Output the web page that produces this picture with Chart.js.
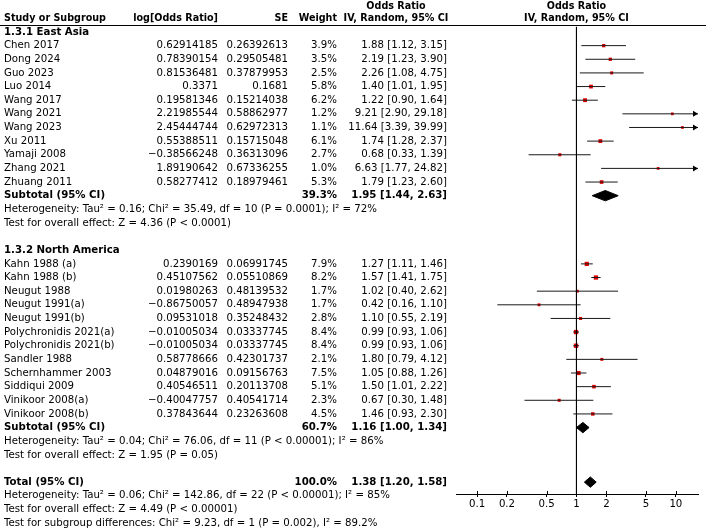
<!DOCTYPE html>
<html>
<head>
<meta charset="utf-8">
<script src="https://cdn.jsdelivr.net/npm/chart.js@4"></script>
<style>
  html, body { margin: 0; padding: 0; background: #fff; }
  #wrap { width: 708px; height: 531px; position: relative; }
</style>
</head>
<body>
<div id="wrap"><canvas id="forest"></canvas></div>
<script>
// East Asia subgroup
const eaStudies = ['Chen 2017', 'Dong 2024', 'Guo 2023', 'Luo 2014', 'Wang 2017', 'Wang 2021',
  'Wang 2023', 'Xu 2011', 'Yamaji 2008', 'Zhang 2021', 'Zhuang 2011'];
const eaLogOR = [0.62914185, 0.78390154, 0.81536481, 0.3371, 0.19581346, 2.21985544,
  2.45444744, 0.55388511, -0.38566248, 1.89190642, 0.58277412];
const eaSE = [0.26392613, 0.29505481, 0.37879953, 0.1681, 0.15214038, 0.58862977,
  0.62972313, 0.15715048, 0.36313096, 0.67336255, 0.18979461];
const eaWeight = [3.9, 3.5, 2.5, 5.8, 6.2, 1.2, 1.1, 6.1, 2.7, 1.0, 5.3];
const eaOR = [1.88, 2.19, 2.26, 1.40, 1.22, 9.21, 11.64, 1.74, 0.68, 6.63, 1.79];
const eaLo = [1.12, 1.23, 1.08, 1.01, 0.90, 2.90, 3.39, 1.28, 0.33, 1.77, 1.23];
const eaHi = [3.15, 3.90, 4.75, 1.95, 1.64, 29.18, 39.99, 2.37, 1.39, 24.82, 2.60];
const eaSubtotal = { weight: 39.3, or: 1.95, lo: 1.44, hi: 2.63 };

// North America subgroup
const naStudies = ['Kahn 1988 (a)', 'Kahn 1988 (b)', 'Neugut 1988', 'Neugut 1991(a)', 'Neugut 1991(b)',
  'Polychronidis 2021(a)', 'Polychronidis 2021(b)', 'Sandler 1988', 'Schernhammer 2003',
  'Siddiqui 2009', 'Vinikoor 2008(a)', 'Vinikoor 2008(b)'];
const naLogOR = [0.2390169, 0.45107562, 0.01980263, -0.86750057, 0.09531018, -0.01005034,
  -0.01005034, 0.58778666, 0.04879016, 0.40546511, -0.40047757, 0.37843644];
const naSE = [0.06991745, 0.05510869, 0.48139532, 0.48947938, 0.35248432, 0.03337745,
  0.03337745, 0.42301737, 0.09156763, 0.20113708, 0.40541714, 0.23263608];
const naWeight = [7.9, 8.2, 1.7, 1.7, 2.8, 8.4, 8.4, 2.1, 7.5, 5.1, 2.3, 4.5];
const naOR = [1.27, 1.57, 1.02, 0.42, 1.10, 0.99, 0.99, 1.80, 1.05, 1.50, 0.67, 1.46];
const naLo = [1.11, 1.41, 0.40, 0.16, 0.55, 0.93, 0.93, 0.79, 0.88, 1.01, 0.30, 0.93];
const naHi = [1.46, 1.75, 2.62, 1.10, 2.19, 1.06, 1.06, 4.12, 1.26, 2.22, 1.48, 2.30];
const naSubtotal = { weight: 60.7, or: 1.16, lo: 1.00, hi: 1.34 };

const total = { weight: 100.0, or: 1.38, lo: 1.20, hi: 1.58 };

const xTicks = [0.1, 0.2, 0.5, 1, 2, 5, 10];
const xTickLabels = ['0.1', '0.2', '0.5', '1', '2', '5', '10'];

const eaNotes = ['Heterogeneity: Tau² = 0.16; Chi² = 35.49, df = 10 (P = 0.0001); I² = 72%',
  'Test for overall effect: Z = 4.36 (P < 0.0001)'];
const naNotes = ['Heterogeneity: Tau² = 0.04; Chi² = 76.06, df = 11 (P < 0.00001); I² = 86%',
  'Test for overall effect: Z = 1.95 (P = 0.05)'];
const totalNotes = ['Heterogeneity: Tau² = 0.06; Chi² = 142.86, df = 22 (P < 0.00001); I² = 85%',
  'Test for overall effect: Z = 4.49 (P < 0.00001)',
  'Test for subgroup differences: Chi² = 9.23, df = 1 (P = 0.002), I² = 89.2%'];

// row layout (one row per text line)
const EA_HEAD = 0, EA_FIRST = 1, EA_SUB = 12;
const NA_HEAD = 16, NA_FIRST = 17, NA_SUB = 29;
const TOTAL_ROW = 33;
const X_MIN = 0.0614, X_MAX = 16.7;
const Y_MIN = -0.513, Y_MAX = 33.87;

const FONT = '"DejaVu Sans", sans-serif';
const FS = 10.2;
const HEAD_FS = 9.6;

const studies = [];
eaStudies.forEach((s, i) => studies.push({ name: s, row: EA_FIRST + i, logOR: eaLogOR[i], se: eaSE[i],
  w: eaWeight[i], or: eaOR[i], lo: eaLo[i], hi: eaHi[i] }));
naStudies.forEach((s, i) => studies.push({ name: s, row: NA_FIRST + i, logOR: naLogOR[i], se: naSE[i],
  w: naWeight[i], or: naOR[i], lo: naLo[i], hi: naHi[i] }));

const summaries = [
  { row: EA_SUB, ...eaSubtotal },
  { row: NA_SUB, ...naSubtotal },
  { row: TOTAL_ROW, ...total }
];

const datasets = [];

// line of no effect
datasets.push({
  data: [{ x: 1, y: -0.37 }, { x: 1, y: Y_MAX }],
  showLine: true, borderColor: '#000', borderWidth: 1, pointRadius: 0
});

// confidence intervals
studies.forEach(s => {
  datasets.push({
    data: [{ x: s.lo, y: s.row }, { x: s.hi, y: s.row }],
    showLine: true, borderColor: '#1a1a1a', borderWidth: 1, pointRadius: 0
  });
});

// study estimates, square size follows the weight
datasets.push({
  data: studies.map(s => ({ x: s.or, y: s.row })),
  pointStyle: 'rect',
  pointRadius: studies.map(s => (2.5 + s.w * 0.22) / Math.SQRT2),
  pointBackgroundColor: '#e00000',
  pointBorderWidth: 0,
  showLine: false
});

// pooled diamonds
summaries.forEach(d => {
  datasets.push({
    data: [{ x: d.lo, y: d.row }, { x: d.or, y: d.row - 0.38 }, { x: d.hi, y: d.row },
      { x: d.or, y: d.row + 0.38 }, { x: d.lo, y: d.row }],
    showLine: true, fill: 'shape', backgroundColor: '#000', borderColor: '#000',
    borderWidth: 1, pointRadius: 0, tension: 0
  });
});

const fmt = v => String(v).replace('-', '\u2212');
const ci = (o, l, h) => `${o.toFixed(2)} [${l.toFixed(2)}, ${h.toFixed(2)}]`;

const tablePlugin = {
  id: 'forestTable',
  afterDraw(chart) {
    const ctx = chart.ctx;
    const y = chart.scales.y, x = chart.scales.x;
    const area = chart.chartArea;
    const py = r => y.getPixelForValue(r);
    const txt = (t, px, r, align, bold, size) => {
      ctx.font = (bold ? 'bold ' : '') + (size || FS) + 'px ' + FONT;
      ctx.textAlign = align;
      ctx.fillText(t, px, typeof r === 'number' ? py(r) : r.px);
    };
    ctx.save();
    ctx.fillStyle = '#000';
    ctx.textBaseline = 'middle';

    // header
    const mid = x.getPixelForValue(1);
    txt('Odds Ratio', 396, { px: 6 }, 'center', true, HEAD_FS);
    txt('Odds Ratio', mid, { px: 6 }, 'center', true, HEAD_FS);
    txt('Study or Subgroup', 4, { px: 18 }, 'left', true, HEAD_FS);
    txt('log[Odds Ratio]', 218, { px: 18 }, 'right', true, HEAD_FS);
    txt('SE', 288, { px: 18 }, 'right', true, HEAD_FS);
    txt('Weight', 337, { px: 18 }, 'right', true, HEAD_FS);
    txt('IV, Random, 95% CI', 396, { px: 18 }, 'center', true, HEAD_FS);
    txt('IV, Random, 95% CI', mid, { px: 18 }, 'center', true, HEAD_FS);
    ctx.strokeStyle = '#000';
    ctx.lineWidth = 1;
    ctx.beginPath();
    ctx.moveTo(0, 25.5);
    ctx.lineTo(706, 25.5);
    ctx.stroke();

    txt('1.3.1 East Asia', 4, EA_HEAD, 'left', true);
    txt('1.3.2 North America', 4, NA_HEAD, 'left', true);

    studies.forEach(s => {
      txt(s.name, 4, s.row, 'left');
      txt(fmt(s.logOR), 218, s.row, 'right');
      txt(fmt(s.se), 288, s.row, 'right');
      txt(s.w.toFixed(1) + '%', 337, s.row, 'right');
      txt(ci(s.or, s.lo, s.hi), 447, s.row, 'right');
    });

    summaries.forEach((d, i) => {
      txt(i === 2 ? 'Total (95% CI)' : 'Subtotal (95% CI)', 4, d.row, 'left', true);
      txt(d.weight.toFixed(1) + '%', 337, d.row, 'right', true);
      txt(ci(d.or, d.lo, d.hi), 447, d.row, 'right', true);
    });

    eaNotes.forEach((t, i) => txt(t, 4, EA_SUB + 1 + i, 'left'));
    naNotes.forEach((t, i) => txt(t, 4, NA_SUB + 1 + i, 'left'));
    totalNotes.forEach((t, i) => txt(t, 4, TOTAL_ROW + 1 + i, 'left'));

    // arrow heads for intervals running past the axis
    studies.filter(s => s.hi > X_MAX).forEach(s => {
      const yy = py(s.row);
      ctx.fillStyle = '#000';
      ctx.beginPath();
      ctx.moveTo(area.right, yy);
      ctx.lineTo(area.right - 5, yy - 3);
      ctx.lineTo(area.right - 5, yy + 3);
      ctx.closePath();
      ctx.fill();
    });

    // upward tick marks on the axis
    ctx.strokeStyle = '#000';
    ctx.beginPath();
    xTicks.forEach(v => {
      const px = Math.round(x.getPixelForValue(v)) + 0.5;
      ctx.moveTo(px, area.bottom - 3);
      ctx.lineTo(px, area.bottom);
    });
    ctx.stroke();
    ctx.restore();
  }
};

new Chart(document.getElementById('forest'), {
  type: 'scatter',
  data: { datasets },
  options: {
    responsive: true,
    maintainAspectRatio: false,
    animation: false,
    events: [],
    layout: { padding: { left: 456, right: 10, top: 25, bottom: 0 } },
    plugins: { legend: { display: false }, tooltip: { enabled: false } },
    scales: {
      x: {
        type: 'logarithmic',
        min: X_MIN,
        max: X_MAX,
        afterBuildTicks: s => { s.ticks = xTicks.map(v => ({ value: v })); },
        afterFit: s => { s.height = 37; },
        ticks: {
          autoSkip: false, maxRotation: 0, padding: 1, color: '#000',
          font: { family: FONT, size: FS },
          callback: (v, i) => xTickLabels[i]
        },
        grid: { drawOnChartArea: false, tickLength: 3, color: '#000' },
        border: { display: true, color: '#000', width: 1 }
      },
      y: {
        type: 'linear', display: false, reverse: true,
        min: Y_MIN, max: Y_MAX
      }
    }
  },
  plugins: [tablePlugin]
});
</script>
</body>
</html>
